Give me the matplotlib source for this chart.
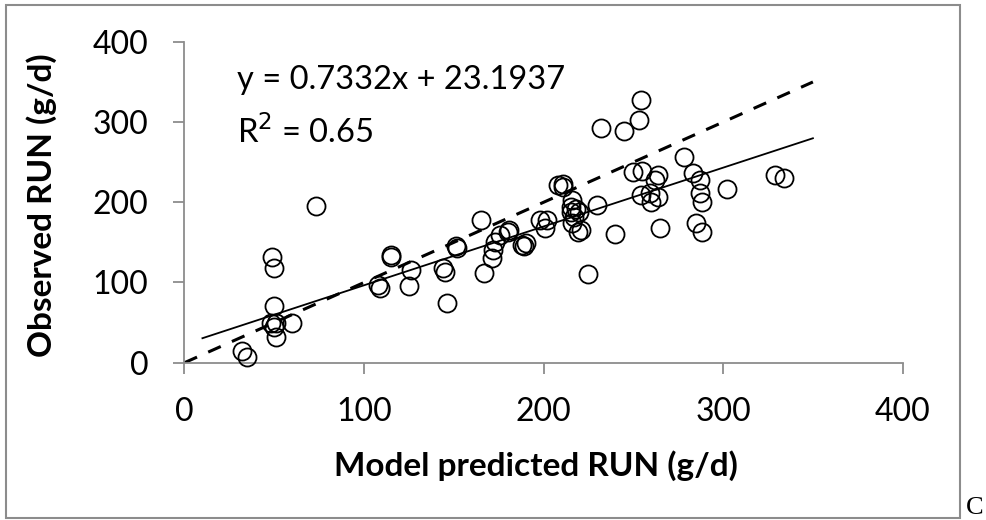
import numpy as np
import matplotlib
matplotlib.use("Agg")
import matplotlib.pyplot as plt
from matplotlib.patches import Rectangle

# model predicted RUN (g/d) vs observed RUN (g/d)
predicted = [32, 35, 48, 49, 50, 50, 51, 51, 50, 60, 73,
             108, 109, 115, 115, 125, 126, 144, 145, 146, 151, 152,
             165, 167, 171, 172, 173, 176, 180, 181, 188, 189, 190,
             198, 201, 202, 208, 211, 211, 215, 216, 215, 218, 217,
             220, 216, 219, 221, 225, 230, 232, 240, 245,
             250, 254, 253, 254, 255, 259, 260, 262, 264, 264, 265,
             278, 283, 285, 287, 287, 288, 288, 302, 329, 334]
observed = [14, 7, 49, 132, 118, 71, 49, 32, 45, 50, 195,
            97, 93, 134, 132, 96, 116, 118, 113, 74, 145, 143,
            178, 112, 130, 140, 151, 159, 163, 166, 147, 145, 149,
            178, 168, 178, 222, 223, 219, 194, 203, 188, 192, 182,
            188, 174, 163, 165, 110, 197, 293, 160, 289,
            238, 209, 303, 327, 239, 211, 200, 228, 234, 207, 168,
            256, 236, 174, 228, 211, 163, 200, 217, 234, 230]

slope = 0.7332
intercept = 23.1937
r2 = 0.65
fit_x = [10, 350]
one_to_one = [0, 350]

plt.rcParams['font.family'] = ['Lato', 'DejaVu Sans']

fig = plt.figure(figsize=(9.86, 5.2), dpi=100)
ax = fig.add_axes([0.1871, 0.3025, 0.7284, 0.617])

ax.plot(predicted, observed, "o", markersize=13, markerfacecolor="none",
        markeredgecolor="black", markeredgewidth=1.3, clip_on=False, zorder=3)
ax.plot(one_to_one, one_to_one, "k--", linewidth=2.2, dashes=(4.5, 4))
fit_y = [slope * v + intercept for v in fit_x]
ax.plot(fit_x, fit_y, "k-", linewidth=1.3)

ax.set_xlim(0, 400)
ax.set_ylim(0, 400)
ax.set_xticks([0, 100, 200, 300, 400])
ax.set_yticks([0, 100, 200, 300, 400])

for side in ["top", "right"]:
    ax.spines[side].set_visible(False)
for side in ["left", "bottom"]:
    ax.spines[side].set_color("#8c8c8c")
    ax.spines[side].set_linewidth(1.3)
ax.tick_params(axis="both", direction="out", length=8, width=1.3,
               color="#8c8c8c", labelsize=23)
ax.tick_params(axis="y", pad=18)
ax.tick_params(axis="x", pad=17)

ax.set_xlabel("Model predicted RUN (g/d)", fontsize=24, fontweight="bold")
ax.set_ylabel("Observed RUN (g/d)", fontsize=24, fontweight="bold")
ax.xaxis.set_label_coords(0.489, -0.272)
ax.yaxis.set_label_coords(-0.177, 0.49)

ax.text(29, 353, "y = %.4fx + %.4f" % (slope, intercept), fontsize=23.5, va="center")
ax.text(29, 288, "R$^2$ = %.2f" % r2, fontsize=23.5, va="center")

# border round the whole chart
fig.patches.append(Rectangle((6 / 986, 2 / 520), 954 / 986, 513 / 520,
                             transform=fig.transFigure, fill=False,
                             edgecolor="#8c8c8c", linewidth=1.5))
fig.text(966 / 986, 1 / 520, "C", fontsize=19, family="Liberation Serif", va="bottom")

fig.savefig("out.png", dpi=100)
